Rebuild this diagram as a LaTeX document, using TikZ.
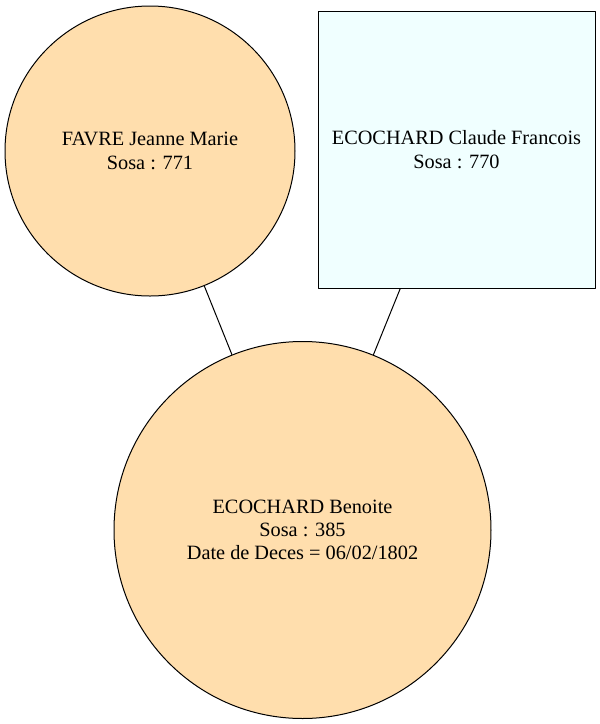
\documentclass[tikz,border=0pt]{standalone}
\usepackage{fontspec}
\setmainfont{Liberation Serif}
\usetikzlibrary{positioning}
\definecolor{navajo}{HTML}{FFDEAD}
\definecolor{azurebg}{HTML}{F0FFFF}

\begin{document}
\begin{tikzpicture}[x=1pt,y=-1pt,line join=round,
  font=\fontsize{20.3}{23.2}\selectfont,
  person/.style={draw=black,line width=1pt,align=center,inner sep=0pt},
  woman/.style={person,circle,fill=navajo},
  man/.style={person,rectangle,fill=azurebg}]
  \useasboundingbox (0,0) rectangle (600,724);
  % parents
  \node[woman,minimum size=290pt] (favre) at (150,151) {FAVRE Jeanne Marie\\Sosa : 771};
  \node[man,minimum size=277pt] (claude) at (456.5,149.5) {ECOCHARD Claude Francois\\Sosa : 770};
  % child
  \node[woman,minimum size=377pt] (benoite) at (302.5,530) {ECOCHARD Benoite\\Sosa : 385\\Date de Deces = 06/02/1802};
  \draw[line width=1pt] (favre) -- (benoite);
  \draw[line width=1pt] (claude) -- (benoite);
\end{tikzpicture}
\end{document}
